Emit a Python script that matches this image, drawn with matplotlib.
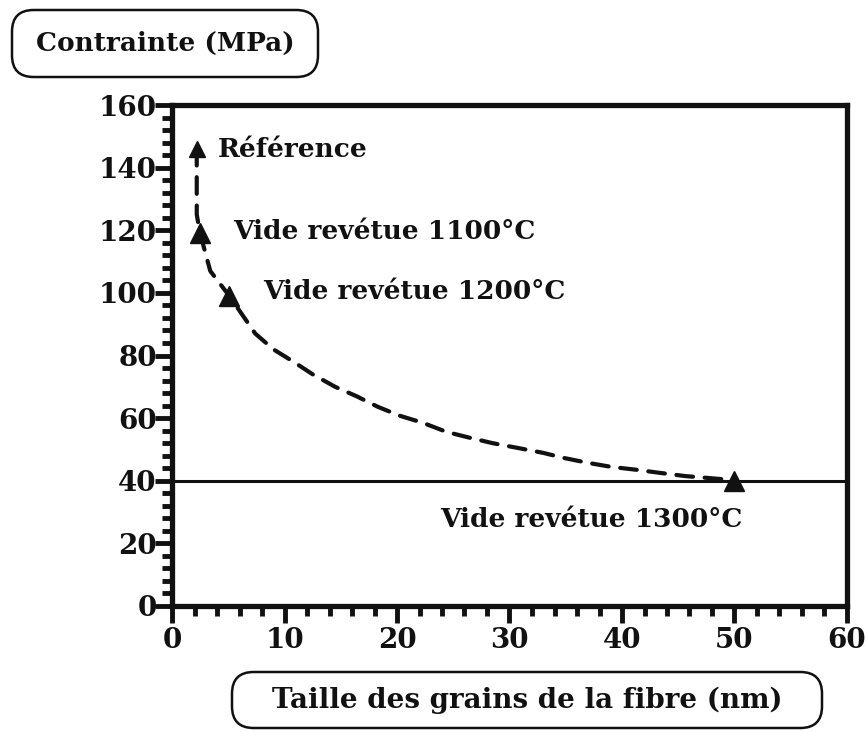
import matplotlib
matplotlib.use("Agg")
import matplotlib.pyplot as plt
from matplotlib.patches import FancyBboxPatch
from matplotlib.ticker import MultipleLocator

# grain size (nm) vs stress (MPa)
point_names = ["Vide revétue 1100°C", "Vide revétue 1200°C", "Vide revétue 1300°C"]
point_x = [2.5, 5.1, 50.0]
point_y = [119, 99, 40]

ref_name = "Référence"
ref_x = 2.2
ref_y = 146

# hand-drawn trend through the points
trend_x = [2.2, 2.2, 2.5, 3.4, 5.1, 7.4, 9.0, 10.8, 12.5, 14.5, 16.4, 18.3, 20.3,
           22.3, 24.4, 26.5, 28.5, 30.7, 33.0, 34.8, 37.0, 39.1, 41.3, 43.4,
           45.6, 47.6, 49.6]
trend_y = [146, 125, 119, 107, 99, 87, 82, 78, 74, 70, 67, 63.6, 60.7,
           58.5, 55.6, 53.7, 52, 50.5, 48.9, 47.3, 45.7, 44.4, 43.5, 42.5,
           41.5, 40.9, 40.3]

threshold = 40

x_ticks = [0, 10, 20, 30, 40, 50, 60]
y_ticks = [0, 20, 40, 60, 80, 100, 120, 140, 160]

ylabel = "Contrainte (MPa)"
xlabel = "Taille des grains de la fibre (nm)"

FONT = "DejaVu Serif"
INK = "#111111"
W, H = 866, 732

plt.rcParams["font.family"] = FONT
plt.rcParams["font.weight"] = "bold"

fig = plt.figure(figsize=(W / 100, H / 100), dpi=100)
ax = fig.add_axes([172 / W, 1 - 606 / H, 675 / W, 501 / H])

ax.axhline(threshold, color=INK, lw=2.2, zorder=2)
ax.plot(trend_x, trend_y, color=INK, lw=3.0, dashes=(4, 2.8),
        dash_capstyle="round", zorder=3)
ax.plot(point_x, point_y, ls="none", marker="^", ms=15, color=INK, zorder=4)
ax.plot([ref_x], [ref_y], ls="none", marker="^", ms=11, color=INK, zorder=4)

label_pos = [(5.4, 119.5), (8.1, 100.3), (23.8, 27.5)]
for name, (tx, ty) in zip(point_names, label_pos):
    ax.text(tx, ty, name, fontsize=19, va="center", ha="left", color=INK)
ax.text(4.1, 145.7, ref_name, fontsize=19, va="center", ha="left", color=INK)

ax.set_xlim(0, 60)
ax.set_ylim(0, 160)
ax.set_xticks(x_ticks)
ax.set_yticks(y_ticks)
ax.xaxis.set_minor_locator(MultipleLocator(2))
ax.yaxis.set_minor_locator(MultipleLocator(4))
ax.tick_params(which="major", direction="out", length=12, width=3.5,
               color=INK, labelsize=20, labelcolor=INK, pad=3)
ax.tick_params(axis="y", which="major", pad=-1)
ax.tick_params(which="minor", direction="out", length=7, width=3.5, color=INK)
for side in ["left", "right", "top", "bottom"]:
    ax.spines[side].set_linewidth(3.8)
    ax.spines[side].set_color(INK)


# rounded label boxes
def rounded_box(x0, y0, x1, y1, text, size):
    box = FancyBboxPatch((x0 / W, 1 - y1 / H), (x1 - x0) / W, (y1 - y0) / H,
                         boxstyle="round,pad=0,rounding_size=0.025",
                         transform=fig.transFigure, fill=False,
                         ec=INK, lw=1.8, mutation_aspect=W / H)
    fig.patches.append(box)
    fig.text((x0 + x1) / 2 / W, 1 - (y0 + y1) / 2 / H, text, fontsize=size,
             ha="center", va="center", color=INK)


rounded_box(12, 10, 318, 77, ylabel, 19)
rounded_box(232, 672, 822, 728, xlabel, 20)

fig.savefig("out.png", dpi=100)
